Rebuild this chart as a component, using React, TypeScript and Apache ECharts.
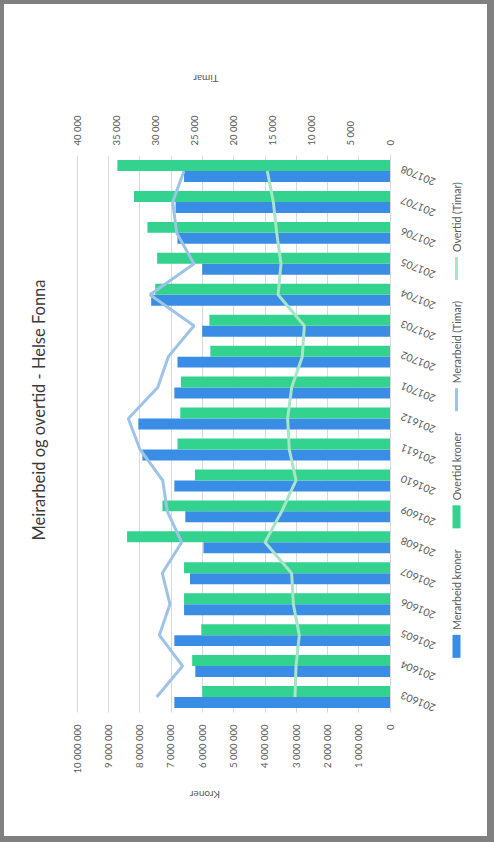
import React, { useEffect, useRef } from "react";
import * as echarts from "echarts";

const categories = [
  "201603", "201604", "201605", "201606", "201607", "201608", "201609", "201610", "201611",
  "201612", "201701", "201702", "201703", "201704", "201705", "201706", "201707", "201708",
];
const merarbeidKroner = [
  6890000, 6220000, 6890000, 6580000, 6390000, 5960000, 6540000, 6890000, 7910000,
  8040000, 6890000, 6790000, 6000000, 7630000, 6000000, 6790000, 6850000, 6580000,
];
const overtidKroner = [
  6000000, 6320000, 6030000, 6580000, 6580000, 8400000, 7270000, 6230000, 6790000,
  6700000, 6680000, 5740000, 5770000, 7500000, 7440000, 7750000, 8180000, 8710000,
];
const merarbeidTimar = [
  29820, 26500, 29480, 28120, 29100, 26620, 28460, 29050, 31950,
  33440, 29690, 28330, 25050, 30670, 25050, 27260, 27770, 26330,
];
const overtidTimar = [
  12140, 12010, 11590, 12350, 12570, 15970, 13840, 12010, 12870,
  13080, 12570, 11210, 10950, 14300, 13930, 14480, 14910, 15680,
];
const seriesNames = ["Merarbeid kroner", "Overtid kroner", "Merarbeid (Timar)", "Overtid (Timar)"];
const title = "Meirarbeid og overtid - Helse Fonna";
const leftAxisName = "Kroner";
const rightAxisName = "Timar";

const FONT = "Lato, 'Noto Sans', sans-serif";
const fmt = (v: number) => String(v).replace(/\B(?=(\d{3})+(?!\d))/g, " ");

const W = 832;
const H = 483;
const LINE_ICON = "path://M0 0H23V3H0Z";
const LABEL_ANGLE = (68 * Math.PI) / 180;

export default function App() {
  const ref = useRef<HTMLDivElement>(null);
  useEffect(() => {
    if (!ref.current) return;
    const chart = echarts.init(ref.current, undefined, { renderer: "svg" });
    const staticGraphics: any[] = [
      {
        type: "text",
        id: "title",
        x: 426,
        y: 35,
        style: {
          text: title,
          fontFamily: FONT,
          fontSize: 16.5,
          fill: "#3a3a3a",
          align: "center",
          verticalAlign: "middle",
        },
      },
      {
        type: "text",
        id: "nameLeft",
        x: 41,
        y: 201,
        rotation: Math.PI / 2,
        style: {
          text: leftAxisName,
          fontFamily: FONT,
          fontSize: 10,
          fill: "#595959",
          align: "center",
          verticalAlign: "middle",
        },
      },
      {
        type: "text",
        id: "nameRight",
        x: 757,
        y: 202,
        rotation: Math.PI / 2,
        style: {
          text: rightAxisName,
          fontFamily: FONT,
          fontSize: 10,
          fill: "#595959",
          align: "center",
          verticalAlign: "middle",
        },
      },
    ];
    chart.setOption({
      animation: false,
      backgroundColor: "#ffffff",
      textStyle: { fontFamily: FONT },
      graphic: staticGraphics,
      legend: {
        bottom: 20,
        left: "center",
        itemWidth: 23,
        itemHeight: 8,
        itemGap: 21,
        textStyle: { fontFamily: FONT, fontSize: 10.5, color: "#595959" },
        data: [
          { name: seriesNames[0], icon: "rect" },
          { name: seriesNames[1], icon: "rect" },
          { name: seriesNames[2], icon: LINE_ICON, itemStyle: { color: "#9DC3E6" } },
          { name: seriesNames[3], icon: LINE_ICON, itemStyle: { color: "#A6E5C7" } },
        ],
      },
      grid: { left: 123.5, right: 151.5, top: 73, bottom: 97, containLabel: false },
      xAxis: {
        type: "category",
        data: categories,
        boundaryGap: true,
        axisLine: { show: true, lineStyle: { color: "#d9d9d9" } },
        axisTick: { show: false },
        axisLabel: { show: false },
      },
      yAxis: [
        {
          type: "value",
          min: 0,
          max: 10000000,
          interval: 1000000,
          axisLine: { show: false },
          axisTick: { show: false },
          axisLabel: { margin: 12, fontSize: 9.5, color: "#595959", fontFamily: FONT, formatter: fmt },
          splitLine: { show: true, lineStyle: { color: "#d9d9d9", width: 1 } },
        },
        {
          type: "value",
          min: 0,
          max: 40000,
          interval: 5000,
          position: "right",
          axisLine: { show: false },
          axisTick: { show: false },
          axisLabel: { margin: 10, fontSize: 9.5, color: "#595959", fontFamily: FONT, formatter: fmt },
          splitLine: { show: false },
        },
      ],
      series: [
        {
          name: seriesNames[0],
          type: "bar",
          data: merarbeidKroner,
          yAxisIndex: 0,
          barGap: "0%",
          barCategoryGap: "29%",
          itemStyle: { color: "#3A8DE4" },
        },
        {
          name: seriesNames[1],
          type: "bar",
          data: overtidKroner,
          yAxisIndex: 0,
          barGap: "0%",
          barCategoryGap: "29%",
          itemStyle: { color: "#33D38F" },
        },
        {
          name: seriesNames[2],
          type: "line",
          data: merarbeidTimar,
          yAxisIndex: 1,
          symbol: "none",
          showSymbol: false,
          lineStyle: { color: "#9DC3E6", width: 3 },
          itemStyle: { color: "#9DC3E6" },
          z: 5,
        },
        {
          name: seriesNames[3],
          type: "line",
          data: overtidTimar,
          yAxisIndex: 1,
          symbol: "none",
          showSymbol: false,
          lineStyle: { color: "#A6E5C7", width: 3 },
          itemStyle: { color: "#A6E5C7" },
          z: 5,
        },
      ],
    });

    // Category labels, rotated, placed through the library's own category scale.
    const zeroY = chart.convertToPixel({ yAxisIndex: 0 }, 0) as number;
    const labelGraphics = categories.map((c, i) => {
      const px = chart.convertToPixel({ xAxisIndex: 0 }, c) as number;
      return {
        type: "text",
        id: "cat" + i,
        x: px + 2,
        y: zeroY + 11,
        rotation: LABEL_ANGLE,
        style: {
          text: c,
          fontFamily: FONT,
          fontSize: 10.5,
          fill: "#595959",
          align: "right",
          verticalAlign: "middle",
        },
      };
    });
    chart.setOption({ graphic: [...staticGraphics, ...labelGraphics] });

    return () => chart.dispose();
  }, []);

  return (
    <div
      style={{
        position: "fixed",
        left: 0,
        top: 0,
        width: 494,
        height: 842,
        background: "#808080",
        overflow: "hidden",
      }}
    >
      <div
        style={{
          position: "absolute",
          left: 4,
          top: 4,
          width: 483,
          height: 832,
          background: "#ffffff",
          overflow: "hidden",
        }}
      >
        <div
          ref={ref}
          style={{
            position: "absolute",
            left: 0,
            top: 0,
            width: W,
            height: H,
            transformOrigin: "0 0",
            transform: `translate(0px, ${W}px) rotate(-90deg)`,
          }}
        />
      </div>
    </div>
  );
}
